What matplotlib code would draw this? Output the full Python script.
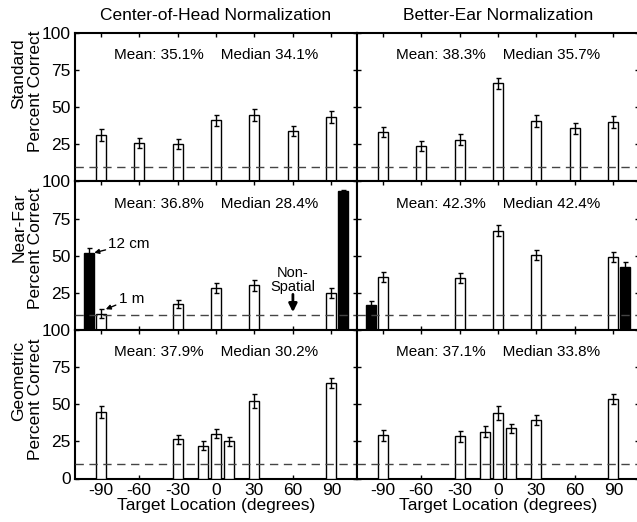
import matplotlib
matplotlib.use("Agg")
import matplotlib.pyplot as plt

plt.rcParams['font.family'] = ['Liberation Sans', 'DejaVu Sans']

# data
angles = [-90, -60, -30, 0, 30, 60, 90]
geo_angles = [-90, -30, -10, 0, 10, 30, 90]
nf_white_angles = [-90, -30, 0, 30, 90]
nf_black_angles = [-99, 99]

std_coh = [31.5, 25.8, 25.3, 41.2, 44.5, 34.1, 43.2]
std_coh_err = [4.0, 3.5, 3.5, 3.5, 4.0, 3.5, 4.0]
std_be = [33.5, 23.8, 28.2, 66.0, 40.8, 35.7, 40.2]
std_be_err = [3.5, 3.5, 3.5, 4.0, 4.0, 3.5, 4.0]

nf_coh_white = [11.0, 17.5, 28.4, 30.0, 25.0]
nf_coh_white_err = [3.0, 3.0, 3.5, 3.5, 3.5]
nf_coh_black = [52.0, 93.5]
nf_coh_black_err = [3.5, 1.0]
nf_be_white = [35.6, 35.1, 67.0, 50.7, 49.1]
nf_be_white_err = [3.5, 3.5, 4.0, 3.5, 3.5]
nf_be_black = [16.7, 42.4]
nf_be_black_err = [3.0, 3.5]

geo_coh = [45.0, 26.3, 22.2, 30.2, 25.0, 52.3, 64.3]
geo_coh_err = [4.0, 3.0, 3.0, 3.0, 3.0, 4.5, 3.5]
geo_be = [29.0, 28.4, 31.6, 44.0, 33.8, 39.5, 53.4]
geo_be_err = [3.5, 3.5, 3.5, 4.5, 3.0, 3.5, 3.5]

stats = [["Mean: 35.1%    Median 34.1%", "Mean: 38.3%    Median 35.7%"],
         ["Mean: 36.8%    Median 28.4%", "Mean: 42.3%    Median 42.4%"],
         ["Mean: 37.9%    Median 30.2%", "Mean: 37.1%    Median 33.8%"]]
row_names = ["Standard", "Near-Far", "Geometric"]
col_titles = ["Center-of-Head Normalization", "Better-Ear Normalization"]

W, H = 637, 522
fig = plt.figure(figsize=(W / 100, H / 100), dpi=100)

col_left = [75, 357]
col_w = 282
row_top = [33, 181.5, 330]
row_h = 148.5

bw = 7.8


def bars(ax, x, y, err, color):
    ax.bar(x, y, width=bw, color=color, edgecolor='black', linewidth=1, zorder=3)
    ax.errorbar(x, y, yerr=err, fmt='none', ecolor='black', elinewidth=1,
                capsize=1.8, capthick=1, zorder=4)


axes = [[None, None], [None, None], [None, None]]
for r in range(3):
    for c in range(2):
        ax = fig.add_axes([col_left[c] / W, 1 - (row_top[r] + row_h) / H,
                           col_w / W, row_h / H])
        axes[r][c] = ax
        ax.set_xlim(-110, 110)
        ax.set_ylim(0, 100)
        ax.axhline(10, color='#444444', lw=1, dashes=(6, 4), zorder=5)
        ax.set_xticks(angles)
        ax.set_yticks([0, 25, 50, 75, 100])
        ax.tick_params(direction='in', top=True, right=True, length=3,
                       width=1, labelsize=12.5, pad=3)
        for s in ax.spines.values():
            s.set_linewidth(1.5)
        if c == 0:
            if r < 2:
                ax.set_yticklabels(['', '25', '50', '75', '100'])
            else:
                ax.set_yticklabels(['0', '25', '50', '75', '100'])
        else:
            ax.set_yticklabels([])
        if r < 2:
            ax.set_xticklabels([])
        else:
            ax.set_xticklabels([str(a) for a in angles])
            ax.set_xlabel("Target Location (degrees)", fontsize=12.5, labelpad=0)
        ax.text(0, 85, stats[r][c], ha='center', va='center', fontsize=11)

bars(axes[0][0], angles, std_coh, std_coh_err, 'white')
bars(axes[0][1], angles, std_be, std_be_err, 'white')
bars(axes[1][0], nf_white_angles, nf_coh_white, nf_coh_white_err, 'white')
bars(axes[1][0], nf_black_angles, nf_coh_black, nf_coh_black_err, 'black')
bars(axes[1][1], nf_white_angles, nf_be_white, nf_be_white_err, 'white')
bars(axes[1][1], nf_black_angles, nf_be_black, nf_be_black_err, 'black')
bars(axes[2][0], geo_angles, geo_coh, geo_coh_err, 'white')
bars(axes[2][1], geo_angles, geo_be, geo_be_err, 'white')

ax = axes[1][0]
ax.annotate("12 cm", xy=(-95, 52), xytext=(-84, 58), fontsize=11,
            ha='left', va='center',
            arrowprops=dict(arrowstyle='-|>', lw=1, color='black',
                            mutation_scale=7, shrinkA=0, shrinkB=0))
ax.annotate("1 m", xy=(-86, 14), xytext=(-76, 21), fontsize=11,
            ha='left', va='center',
            arrowprops=dict(arrowstyle='-|>', lw=1, color='black',
                            mutation_scale=7, shrinkA=0, shrinkB=0))
ax.text(60, 34, "Non-\nSpatial", ha='center', va='center', fontsize=10.5,
        linespacing=1.0)
ax.annotate("", xy=(60, 12), xytext=(60, 24),
            arrowprops=dict(arrowstyle='-|>', lw=2, color='black',
                            mutation_scale=12, shrinkA=0, shrinkB=0))

for c in range(2):
    fig.text((col_left[c] + col_w / 2) / W, 1 - 16 / H, col_titles[c],
             ha='center', va='center', fontsize=12.5)

# row labels: two separate lines, as in the original figure
name_y = [74, 227, 381]
pc_y = [91, 248, 399]
for r in range(3):
    fig.text(19 / W, 1 - name_y[r] / H, row_names[r], rotation=90,
             ha='center', va='center', fontsize=12.5)
    fig.text(35 / W, 1 - pc_y[r] / H, "Percent Correct", rotation=90,
             ha='center', va='center', fontsize=12.5)

fig.savefig("out.png", dpi=100)
